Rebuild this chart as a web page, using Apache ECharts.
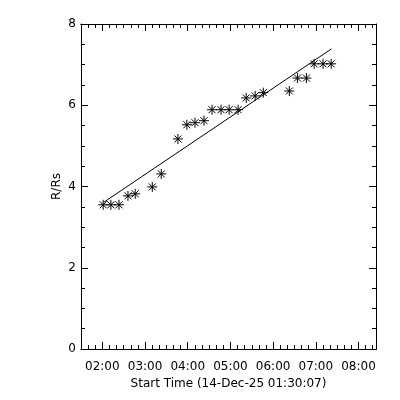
<!DOCTYPE html>
<html>
<head>
<meta charset="utf-8">
<script src="https://cdn.jsdelivr.net/npm/echarts@6/dist/echarts.min.js"></script>
<style>html,body{margin:0;padding:0;background:#fff;}#c{width:400px;height:400px;}</style>
</head>
<body>
<div id="c"></div>
<script>
// Time in decimal hours (UT), R/Rs values
var timeHours = [2.02, 2.20, 2.39, 2.60, 2.77, 3.17, 3.38, 3.77, 3.98, 4.17, 4.38, 4.57, 4.78, 4.97, 5.18, 5.37, 5.58, 5.77, 6.38, 6.57, 6.78, 6.96, 7.17, 7.36];
var heights   = [3.55, 3.55, 3.55, 3.77, 3.82, 3.99, 4.31, 5.17, 5.52, 5.57, 5.62, 5.89, 5.89, 5.89, 5.89, 6.18, 6.23, 6.31, 6.35, 6.67, 6.67, 7.02, 7.02, 7.02];
var fitTimes   = [2.03, 7.37];
var fitHeights = [3.61, 7.39];
var majorTickHours = [2, 3, 4, 5, 6, 7, 8];
var xTitle = 'Start Time (14-Dec-25 01:30:07)';
var yTitle = 'R/Rs';
var xMin = 1.5, xMax = 8.41;

var minorTickHours = [];
for (var k = 9; k / 6 <= xMax; k++) { if (k % 6 !== 0) minorTickHours.push(k / 6); }

function pad(n){ return (n < 10 ? '0' : '') + n; }
var font = 'DejaVu Sans';
var black = '#000';

function xAxisDef(pos, ticks, len, showLabel) {
  return {
    type: 'value', position: pos, min: xMin, max: xMax,
    axisLine: { show: true, onZero: false, lineStyle: { color: black, width: 1 } },
    axisTick: { show: true, inside: true, length: len, customValues: ticks, lineStyle: { color: black, width: 1 } },
    axisLabel: { show: showLabel, customValues: majorTickHours, color: black, fontFamily: font, fontSize: 12, margin: 12,
      formatter: function (v) { return pad(Math.round(v)) + ':00'; } },
    splitLine: { show: false }
  };
}
var xA = [xAxisDef('bottom', majorTickHours, 7, true), xAxisDef('bottom', minorTickHours, 4, false),
          xAxisDef('top', majorTickHours, 7, false), xAxisDef('top', minorTickHours, 4, false)];
xA[0].name = xTitle;
xA[0].nameLocation = 'middle';
xA[0].nameGap = 29;
xA[0].nameTextStyle = { color: black, fontFamily: font, fontSize: 12 };

function yAxisDef(pos, showLabel) {
  return {
    type: 'value', position: pos, min: 0, max: 8, interval: 2,
    axisLine: { show: true, onZero: false, lineStyle: { color: black, width: 1 } },
    axisTick: { show: true, inside: true, length: 7, lineStyle: { color: black } },
    minorTick: { show: true, splitNumber: 4, length: 4, lineStyle: { color: black } },
    axisLabel: { show: showLabel, color: black, fontFamily: font, fontSize: 12, margin: 5 },
    splitLine: { show: false }
  };
}
var yA = [yAxisDef('left', true), yAxisDef('right', false)];
yA[0].name = yTitle;
yA[0].nameLocation = 'middle';
yA[0].nameGap = 18;
yA[0].nameMoveOverlap = false;
yA[0].nameTextStyle = { color: black, fontFamily: font, fontSize: 12 };

var pts = timeHours.map(function (t, i) { return [t, heights[i]]; });
var fit = fitTimes.map(function (t, i) { return [t, fitHeights[i]]; });

var chart = echarts.init(document.getElementById('c'), null, { renderer: 'canvas' });
chart.setOption({
  backgroundColor: '#fff',
  animation: false,
  grid: { left: 81, right: 24, top: 24, bottom: 51, containLabel: false },
  xAxis: xA,
  yAxis: yA,
  series: [
    { type: 'line', data: fit, xAxisIndex: 0, yAxisIndex: 0, showSymbol: false, symbol: 'none',
      lineStyle: { color: black, width: 1 } },
    { type: 'scatter', data: pts, xAxisIndex: 0, yAxisIndex: 0,
      symbol: 'path://M5,0L5,10M0,5L10,5M1.5,1.5L8.5,8.5M1.5,8.5L8.5,1.5', symbolSize: 10,
      itemStyle: { color: 'transparent', borderColor: black, borderWidth: 1, opacity: 1 } }
  ]
});
</script>
</body>
</html>
